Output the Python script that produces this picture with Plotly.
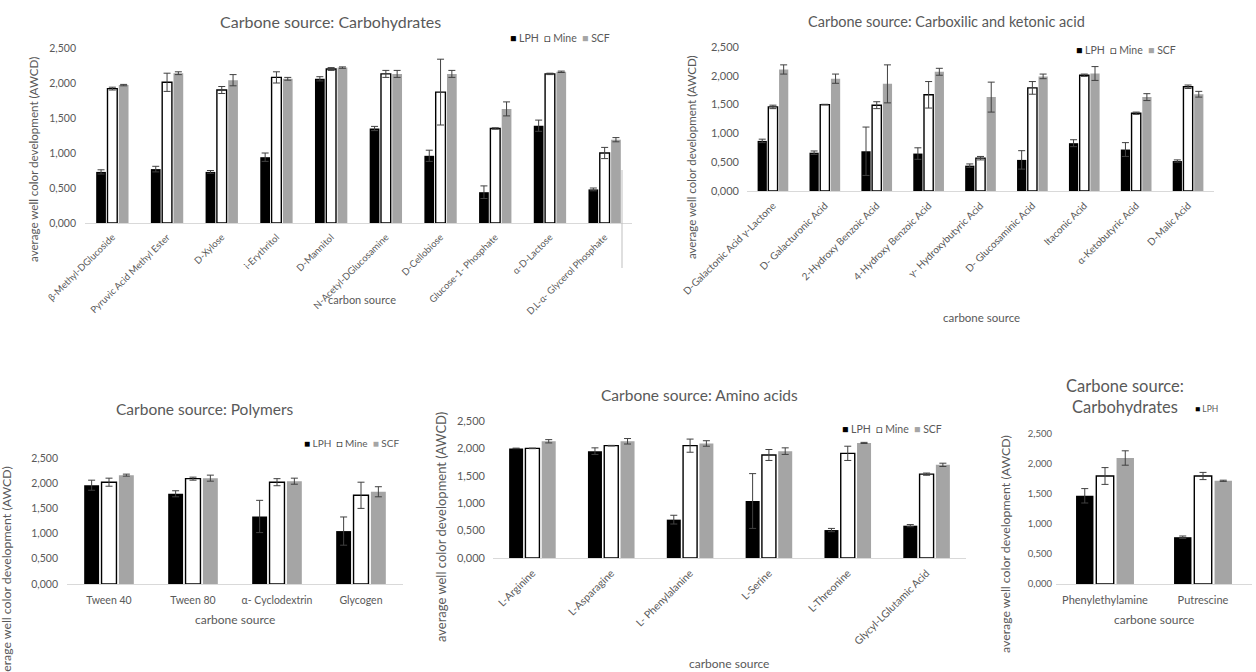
import plotly.graph_objects as go

# ---------------- DATA ----------------
series_names = ["LPH", "Mine", "SCF"]

carb_cats = ["β-Methyl-DGlucoside", "Pyruvic Acid Methyl Ester", "D-Xylose", "i-Erythritol",
             "D-Mannitol", "N-Acetyl-DGlucosamine", "D-Cellobiose", "Glucose-1- Phosphate",
             "α-D-Lactose", "D,L-α- Glycerol Phosphate"]
carb_lph = [0.73, 0.77, 0.73, 0.94, 2.06, 1.35, 0.96, 0.44, 1.39, 0.48]
carb_lph_err = [0.03, 0.04, 0.02, 0.06, 0.03, 0.03, 0.08, 0.09, 0.08, 0.02]
carb_mine = [1.92, 2.01, 1.90, 2.08, 2.20, 2.13, 1.87, 1.35, 2.13, 1.00]
carb_mine_err = [0.02, 0.13, 0.05, 0.08, 0.02, 0.05, 0.47, 0.01, 0.01, 0.08]
carb_scf = [1.97, 2.14, 2.04, 2.06, 2.22, 2.13, 2.13, 1.63, 2.16, 1.19]
carb_scf_err = [0.01, 0.02, 0.08, 0.02, 0.01, 0.05, 0.05, 0.10, 0.01, 0.03]

acid_cats = ["D-Galactonic Acid γ-Lactone", "D- Galacturonic Acid", "2-Hydroxy Benzoic Acid",
             "4-Hydroxy Benzoic Acid", "γ- Hydroxybutyric Acid", "D- Glucosaminic Acid",
             "Itaconic Acid", "α-Ketobutyric Acid", "D-Malic Acid"]
acid_lph = [0.87, 0.665, 0.69, 0.65, 0.44, 0.54, 0.83, 0.72, 0.52]
acid_lph_err = [0.03, 0.03, 0.42, 0.10, 0.03, 0.16, 0.06, 0.12, 0.02]
acid_mine = [1.46, 1.50, 1.49, 1.67, 0.57, 1.79, 2.01, 1.35, 1.81]
acid_mine_err = [0.03, 0.005, 0.06, 0.23, 0.03, 0.11, 0.02, 0.02, 0.03]
acid_scf = [2.11, 1.95, 1.86, 2.07, 1.63, 1.99, 2.04, 1.63, 1.68]
acid_scf_err = [0.08, 0.08, 0.33, 0.06, 0.26, 0.04, 0.12, 0.06, 0.05]

poly_cats = ["Tween 40", "Tween 80", "α- Cyclodextrin", "Glycogen"]
poly_lph = [1.96, 1.79, 1.34, 1.05]
poly_lph_err = [0.10, 0.06, 0.32, 0.28]
poly_mine = [2.02, 2.09, 2.02, 1.76]
poly_mine_err = [0.08, 0.03, 0.07, 0.26]
poly_scf = [2.16, 2.10, 2.04, 1.83]
poly_scf_err = [0.02, 0.06, 0.06, 0.10]

amino_cats = ["L-Arginine", "L-Asparagine", "L- Phenylalanine", "L-Serine", "L-Threonine",
              "Glycyl-LGlutamic Acid"]
amino_lph = [2.00, 1.95, 0.70, 1.04, 0.51, 0.59]
amino_lph_err = [0.005, 0.06, 0.08, 0.50, 0.03, 0.02]
amino_mine = [2.00, 2.05, 2.05, 1.88, 1.91, 1.53]
amino_mine_err = [0.005, 0.005, 0.12, 0.10, 0.13, 0.02]
amino_scf = [2.13, 2.13, 2.09, 1.95, 2.10, 1.70]
amino_scf_err = [0.03, 0.05, 0.05, 0.06, 0.01, 0.03]

amine_cats = ["Phenylethylamine", "Putrescine"]
amine_lph = [1.47, 0.78]
amine_lph_err = [0.12, 0.02]
amine_mine = [1.80, 1.80]
amine_mine_err = [0.14, 0.06]
amine_scf = [2.10, 1.72]
amine_scf_err = [0.12, 0.01]

y_ticks = [0, 0.5, 1.0, 1.5, 2.0, 2.5]
y_ticktext = ["0,000", "0,500", "1,000", "1,500", "2,000", "2,500"]

# ---------------- STYLE / LAYOUT ----------------
W, H = 1256, 672
FONT = "Lato, 'Open Sans', sans-serif"
GREY_TXT = "#595959"
COL = {"LPH": "#000000", "Mine": "#ffffff", "SCF": "#a5a5a5"}


def px(x):
    return x / W


def py(y):
    return 1 - y / H


panels = [
    dict(cats=carb_cats, data=[(carb_lph, carb_lph_err), (carb_mine, carb_mine_err), (carb_scf, carb_scf_err)],
         xd=(85, 632), yd=(48, 223), ytf=10.5, xtf=9.5, angle=-45, ystand=8, xstand=4,
         title="Carbone source: Carbohydrates", tpos=(330, 22), tfs=16,
         leg=(560, 38), legfs=10.5, legall=True,
         xtitle="carbon source", xtpos=(362, 299), xtfs=11,
         ytitle_pos=(33, 160), ytfs=11.6),
    dict(cats=acid_cats, data=[(acid_lph, acid_lph_err), (acid_mine, acid_mine_err), (acid_scf, acid_scf_err)],
         xd=(747, 1214), yd=(47, 191), ytf=11, xtf=10, angle=-45, ystand=7, xstand=4,
         title="Carbone source: Carboxilic and ketonic acid", tpos=(946, 22), tfs=14.5,
         leg=(1126, 50), legfs=10.5, legall=True,
         xtitle="carbone source", xtpos=(981, 317), xtfs=11.5,
         ytitle_pos=(692, 157), ytfs=11.5),
    dict(cats=poly_cats, data=[(poly_lph, poly_lph_err), (poly_mine, poly_mine_err), (poly_scf, poly_scf_err)],
         xd=(67, 403), yd=(458, 584), ytf=10.5, xtf=10.5, angle=0, ystand=8, xstand=6,
         title="Carbone source: Polymers", tpos=(205, 409), tfs=15.5,
         leg=(351, 443), legfs=10, legall=True,
         xtitle="carbone source", xtpos=(235, 619), xtfs=12,
         ytitle_pos=(6, 575), ytfs=12.3),
    dict(cats=amino_cats, data=[(amino_lph, amino_lph_err), (amino_mine, amino_mine_err), (amino_scf, amino_scf_err)],
         xd=(493, 966), yd=(421, 558), ytf=11, xtf=10.5, angle=-45, ystand=7, xstand=4,
         title="Carbone source: Amino acids", tpos=(699, 395), tfs=15.5,
         leg=(892, 429), legfs=10.5, legall=True,
         xtitle="carbone source", xtpos=(729, 663), xtfs=12,
         ytitle_pos=(441, 527), ytfs=13),
    dict(cats=amine_cats, data=[(amine_lph, amine_lph_err), (amine_mine, amine_mine_err), (amine_scf, amine_scf_err)],
         xd=(1056, 1252), yd=(434, 584), ytf=9.5, xtf=11, angle=0, ystand=3, xstand=6,
         title="Carbone source:<br>Carbohydrates", tpos=(1125, 396), tfs=16.5,
         leg=(1206, 409), legfs=8.5, legall=False,
         xtitle="carbone source", xtpos=(1154, 619), xtfs=12,
         ytitle_pos=(1005, 544), ytfs=12.3),
]

fig = go.Figure()
annotations = []
layout = {}

for i, p in enumerate(panels, start=1):
    xa = "x" if i == 1 else f"x{i}"
    ya = "y" if i == 1 else f"y{i}"
    for name, (vals, errs) in zip(series_names, p["data"]):
        fig.add_trace(go.Bar(
            x=p["cats"], y=vals, name=name, xaxis=xa, yaxis=ya, showlegend=False,
            marker=dict(color=COL[name],
                        line=dict(color="#000000" if name == "Mine" else COL[name],
                                  width=1.4 if name == "Mine" else 0)),
            error_y=dict(type="data", array=errs, visible=True, color="#404040",
                         thickness=1, width=3.5),
        ))
    xkey = "xaxis" if i == 1 else f"xaxis{i}"
    ykey = "yaxis" if i == 1 else f"yaxis{i}"
    layout[xkey] = dict(domain=[px(p["xd"][0]), px(p["xd"][1])], anchor=ya,
                        type="category", showline=True, linecolor="#d9d9d9", linewidth=1,
                        showgrid=False, ticks="", tickangle=p["angle"], automargin=False,
                        tickfont=dict(family=FONT, size=p["xtf"], color=GREY_TXT),
                        ticklabelstandoff=p["xstand"], fixedrange=True)
    layout[ykey] = dict(domain=[py(p["yd"][1]), py(p["yd"][0])], anchor=xa,
                        range=[0, 2.5], tickvals=y_ticks, ticktext=y_ticktext,
                        showline=False, showgrid=False, zeroline=False, ticks="", automargin=False,
                        tickfont=dict(family=FONT, size=p["ytf"], color=GREY_TXT),
                        ticklabelstandoff=p["ystand"], fixedrange=True)
    # chart title
    annotations.append(dict(text=p["title"], x=px(p["tpos"][0]), y=py(p["tpos"][1]),
                            xref="paper", yref="paper", showarrow=False, xanchor="center",
                            yanchor="middle", align="center",
                            font=dict(family=FONT, size=p["tfs"], color=GREY_TXT)))
    # legend (text keys)
    if p["legall"]:
        leg_text = ("<span style='color:#000000'>■</span> LPH  "
                    "<span style='color:#000000'>□</span> Mine  "
                    "<span style='color:#a5a5a5'>■</span> SCF")
    else:
        leg_text = "<span style='color:#000000'>■</span> LPH"
    annotations.append(dict(text=leg_text, x=px(p["leg"][0]), y=py(p["leg"][1]),
                            xref="paper", yref="paper", showarrow=False, xanchor="center",
                            yanchor="middle", font=dict(family=FONT, size=p["legfs"], color=GREY_TXT)))
    # axis titles
    annotations.append(dict(text=p["xtitle"], x=px(p["xtpos"][0]), y=py(p["xtpos"][1]),
                            xref="paper", yref="paper", showarrow=False, xanchor="center",
                            yanchor="middle", font=dict(family=FONT, size=p["xtfs"], color=GREY_TXT)))
    annotations.append(dict(text="average well color development (AWCD)",
                            x=px(p["ytitle_pos"][0]), y=py(p["ytitle_pos"][1]),
                            xref="paper", yref="paper", showarrow=False, textangle=-90,
                            xanchor="center", yanchor="middle",
                            font=dict(family=FONT, size=p["ytfs"], color=GREY_TXT)))

shapes = [
    dict(type="line", xref="paper", yref="paper", x0=px(622), x1=px(622), y0=py(170), y1=py(268),
         line=dict(color="#bfbfbf", width=1)),
]

fig.update_layout(
    template="none",
    width=W, height=H, autosize=False,
    margin=dict(l=0, r=0, t=0, b=0, pad=0, autoexpand=False),
    paper_bgcolor="#ffffff", plot_bgcolor="#ffffff",
    barmode="group", bargap=0.38, bargroupgap=0.14,
    font=dict(family=FONT, color=GREY_TXT),
    annotations=annotations, shapes=shapes,
    **layout,
)

fig.write_html("out.html", config={"displayModeBar": False},
               post_script="document.body.style.margin='0px';document.body.style.overflow='hidden';")
